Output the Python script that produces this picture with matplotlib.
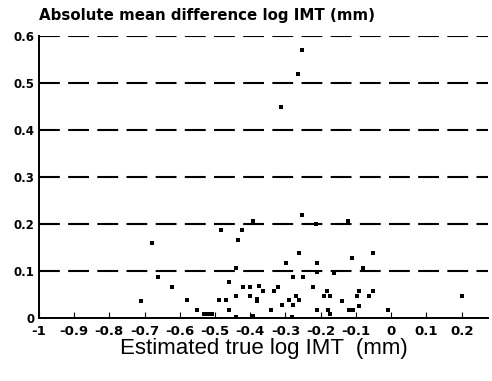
import matplotlib
matplotlib.use('Agg')
import matplotlib.pyplot as plt

# estimated true log IMT (x) vs absolute mean difference (y)
true_log_imt = [-0.711, -0.680, -0.661, -0.621, -0.580, -0.552, -0.530, -0.520, -0.510,
                -0.484, -0.490, -0.470, -0.460, -0.460, -0.441, -0.441, -0.441, -0.434,
                -0.424, -0.420, -0.400, -0.400, -0.393, -0.380, -0.380, -0.374, -0.363,
                -0.342, -0.393, -0.332, -0.320, -0.311, -0.299, -0.290, -0.280, -0.280,
                -0.271, -0.261, -0.261, -0.252, -0.251, -0.282, -0.221, -0.213, -0.211,
                -0.211, -0.211, -0.192, -0.173, -0.181, -0.178, -0.173, -0.162, -0.140,
                -0.123, -0.121, -0.109, -0.111, -0.097, -0.092, -0.092, -0.080, -0.062,
                -0.052, -0.052, -0.009, 0.202, -0.254, -0.265, -0.313]
abs_mean_diff = [0.037, 0.160, 0.088, 0.067, 0.038, 0.017, 0.008, 0.008, 0.008,
                 0.187, 0.038, 0.038, 0.077, 0.017, 0.107, 0.047, 0.003, 0.167,
                 0.187, 0.067, 0.067, 0.047, 0.207, 0.040, 0.036, 0.068, 0.057,
                 0.018, 0.004, 0.057, 0.067, 0.028, 0.118, 0.038, 0.088, 0.028,
                 0.047, 0.138, 0.038, 0.219, 0.088, 0.003, 0.067, 0.199, 0.118,
                 0.099, 0.017, 0.047, 0.047, 0.057, 0.017, 0.008, 0.096, 0.037,
                 0.207, 0.017, 0.017, 0.127, 0.047, 0.026, 0.057, 0.107, 0.047,
                 0.057, 0.138, 0.017, 0.047, 0.570, 0.519, 0.448]

x_ticks = [-1, -0.9, -0.8, -0.7, -0.6, -0.5, -0.4, -0.3, -0.2, -0.1, 0, 0.1, 0.2]
x_tick_labels = ['-1', '-0.9', '-0.8', '-0.7', '-0.6', '-0.5', '-0.4', '-0.3', '-0.2',
                 '-0.1', '0', '0.1', '0.2']
y_ticks = [0, 0.1, 0.2, 0.3, 0.4, 0.5, 0.6]
y_tick_labels = ['0', '0.1', '0.2', '0.3', '0.4', '0.5', '0.6']

plt.rcParams['font.family'] = ['Liberation Sans', 'DejaVu Sans']

fig = plt.figure(figsize=(4.92, 3.81), dpi=100)
ax = fig.add_axes([0.079, 0.165, 0.913, 0.741])

for yv in y_ticks[1:]:
    ax.axhline(yv, color='black', linestyle=(0, (10, 4)), linewidth=1.5, zorder=1)

ax.scatter(true_log_imt, abs_mean_diff, marker='s', s=6, color='black', zorder=3, linewidths=0)

ax.set_xlim(-1, 0.275)
ax.set_ylim(0, 0.6)
ax.spines['top'].set_visible(False)
ax.spines['right'].set_visible(False)
ax.spines['left'].set_linewidth(1.4)
ax.spines['bottom'].set_linewidth(1.4)

ax.set_xticks(x_ticks)
ax.set_xticklabels(x_tick_labels, fontsize=9.5, fontweight='bold', family='DejaVu Sans')
ax.set_yticks(y_ticks)
ax.set_yticklabels(y_tick_labels, fontsize=8.5, fontweight='bold', family='DejaVu Sans')
ax.tick_params(axis='x', direction='in', length=4, width=0.8, pad=5)
ax.tick_params(axis='y', direction='in', length=0, pad=3)

ax.set_xlabel('Estimated true log IMT  (mm)', fontsize=16, labelpad=0)
fig.text(0.08, 0.96, 'Absolute mean difference log IMT (mm)', fontsize=10.8,
         fontweight='bold', family='DejaVu Sans', ha='left', va='center')

fig.savefig('out.png', dpi=100)
